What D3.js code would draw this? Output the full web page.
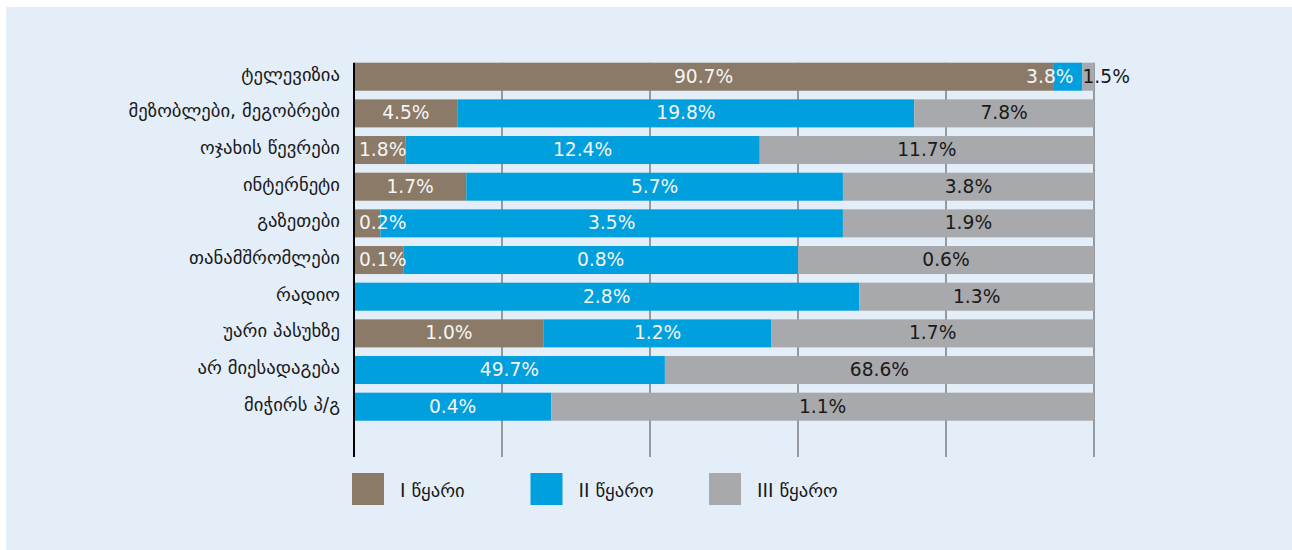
<!DOCTYPE html>
<html>
<head>
<meta charset="utf-8">
<script src="https://cdn.jsdelivr.net/npm/d3@7"></script>
<style>
  html, body { margin: 0; padding: 0; background: #ffffff; }
  svg { display: block; }
  text { font-family: "DejaVu Sans", sans-serif; }
</style>
</head>
<body>
<svg id="chart" width="1292" height="550"></svg>
<script>
// ---- data ----
const categories = [
  "ტელევიზია",
  "მეზობლები, მეგობრები",
  "ოჯახის წევრები",
  "ინტერნეტი",
  "გაზეთები",
  "თანამშრომლები",
  "რადიო",
  "უარი პასუხზე",
  "არ მიესადაგება",
  "მიჭირს პ/გ"
];
const seriesNames = ["I წყარი", "II წყარო", "III წყარო"];
const source1 = [90.7, 4.5, 1.8, 1.7, 0.2, 0.1, 0.0, 1.0, 0.0, 0.0];
const source2 = [3.8, 19.8, 12.4, 5.7, 3.5, 0.8, 2.8, 1.2, 49.7, 0.4];
const source3 = [1.5, 7.8, 11.7, 3.8, 1.9, 0.6, 1.3, 1.7, 68.6, 1.1];
const xTicks = [0, 20, 40, 60, 80, 100];

const colors = ["#8b7a67", "#009fdd", "#a8a9ac"];
const labelColors = ["#f5f5f5", "#f5f5f5", "#1a1a1a"];
const FS = 18.67;

// ---- layout ----
const svg = d3.select("#chart");
svg.append("rect").attr("x", 6).attr("y", 7).attr("width", 1286).attr("height", 543).attr("fill", "#e4eef9");

const x = d3.scaleLinear().domain([0, 100]).range([354, 1094]);
const y = d3.scaleBand().domain(categories).range([62.7, 420.7]).paddingInner(0.236).paddingOuter(0).align(0);
const axisBottomY = y.range()[1] + y.step() * 0.99;

const rows = categories.map((c, i) => {
  const vals = [source1[i], source2[i], source3[i]];
  const total = d3.sum(vals);
  let cum = 0;
  const segs = vals.map((v, k) => {
    const s = { cat: c, k, v, p0: cum / total * 100, p1: (cum + v) / total * 100 };
    cum += v;
    return s;
  });
  return { cat: c, segs };
});

// gridlines (behind bars)
const grid = svg.append("g");
grid.selectAll("line").data(xTicks.slice(1)).join("line")
  .attr("x1", d => x(d)).attr("x2", d => x(d))
  .attr("y1", y.range()[0]).attr("y2", axisBottomY)
  .attr("stroke", "#6b6b6b").attr("stroke-width", 1.3);

// bars
const barG = svg.append("g");
rows.forEach(r => {
  barG.selectAll(null).data(r.segs.filter(s => s.v > 0)).join("rect")
    .attr("x", s => x(s.p0)).attr("width", s => x(s.p1) - x(s.p0))
    .attr("y", y(r.cat)).attr("height", y.bandwidth())
    .attr("fill", s => colors[s.k]);
});

// y axis line
svg.append("line").attr("x1", x(0)).attr("x2", x(0))
  .attr("y1", y.range()[0]).attr("y2", axisBottomY)
  .attr("stroke", "#000").attr("stroke-width", 2);

// category labels
const yAxis = d3.axisLeft(y).tickSize(0).tickPadding(14);
const yg = svg.append("g").attr("transform", `translate(${x(0)},0)`).call(yAxis);
yg.select(".domain").remove();
yg.selectAll("text").attr("font-size", FS).attr("fill", "#1a1a1a").attr("dy", "0.21em");

// value labels with simple overlap resolution
const fmt = v => v.toFixed(1) + "%";
const labelG = svg.append("g");
rows.forEach(r => {
  const segs = r.segs.filter(s => s.v > 0);
  const items = segs.map(s => {
    const t = labelG.append("text")
      .attr("font-size", FS)
      .attr("text-anchor", "middle")
      .attr("dominant-baseline", "central")
      .attr("fill", labelColors[s.k])
      .attr("y", y(r.cat) + y.bandwidth() / 2 - 0.5)
      .text(fmt(s.v));
    const w = t.node().getComputedTextLength();
    return { t, w, cx: (x(s.p0) + x(s.p1)) / 2 };
  });
  const pad = 9;
  for (let iter = 0; iter < 20; iter++) {
    let moved = false;
    for (let i = 0; i < items.length - 1; i++) {
      const a = items[i], b = items[i + 1];
      const need = (a.w + b.w) / 2 + pad;
      const gap = b.cx - a.cx;
      if (gap < need) {
        const d = (need - gap) / 2;
        a.cx -= d; b.cx += d; moved = true;
      }
    }
    const f = items[0];
    if (f && f.cx - f.w / 2 < x(0) + 5) { f.cx = x(0) + 5 + f.w / 2; moved = true; }
    if (!moved) break;
  }
  items.forEach(it => it.t.attr("x", it.cx));
});

// legend
const legendX = d3.scalePoint().domain(seriesNames).range([352, 709]);
const lg = svg.append("g");
seriesNames.forEach((n, i) => {
  const g = lg.append("g").attr("transform", `translate(${legendX(n)},473)`);
  g.append("rect").attr("width", 32).attr("height", 32).attr("fill", colors[i]);
  g.append("text").attr("x", 48).attr("y", 20).attr("dy", "0.21em")
    .attr("font-size", FS).attr("fill", "#1a1a1a").text(n);
});
</script>
</body>
</html>
